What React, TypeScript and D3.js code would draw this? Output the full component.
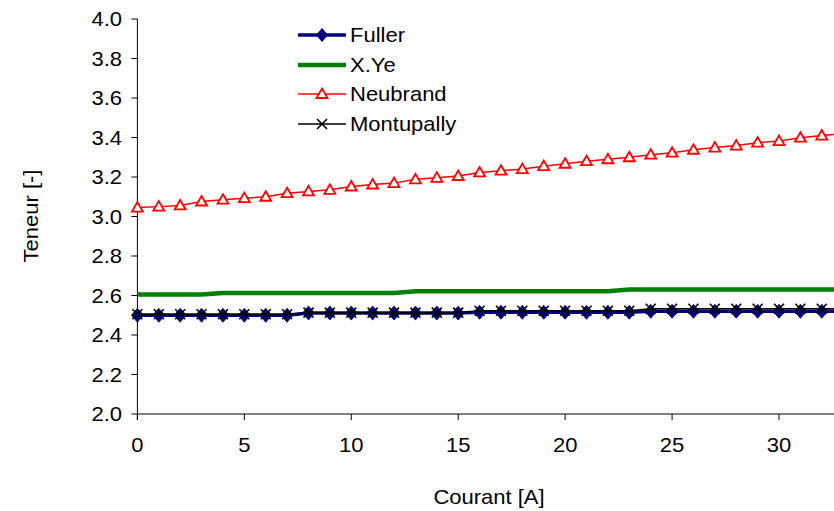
import React from "react";
import * as d3 from "d3";

const currents: number[] = Array.from({ length: 34 }, (_, i) => i);

const fuller: number[] = [
  2.50, 2.50, 2.50, 2.50, 2.50, 2.50, 2.50, 2.50,
  2.511, 2.511, 2.511, 2.511, 2.511, 2.511, 2.511, 2.511,
  2.515, 2.515, 2.515, 2.515, 2.515, 2.515, 2.515, 2.515,
  2.52, 2.52, 2.52, 2.52, 2.52, 2.52, 2.52, 2.52, 2.52, 2.52,
];
const xye: number[] = [
  2.605, 2.605, 2.605, 2.605,
  2.613, 2.613, 2.613, 2.613, 2.613, 2.613, 2.613, 2.613, 2.613,
  2.622, 2.622, 2.622, 2.622, 2.622, 2.622, 2.622, 2.622, 2.622, 2.622,
  2.63, 2.63, 2.63, 2.63, 2.63, 2.63, 2.63, 2.63, 2.63, 2.63, 2.63,
];
const neubrand: number[] = [
  3.045, 3.05, 3.056, 3.076, 3.085, 3.093, 3.10, 3.118, 3.127, 3.135,
  3.152, 3.162, 3.169, 3.188, 3.196, 3.205, 3.223, 3.232, 3.24, 3.255,
  3.267, 3.28, 3.29, 3.30, 3.313, 3.323, 3.338, 3.349, 3.359, 3.374,
  3.382, 3.399, 3.41, 3.418,
];
const montupally: number[] = [
  2.505, 2.505, 2.505, 2.505, 2.505, 2.505, 2.505, 2.505,
  2.513, 2.513, 2.513, 2.513, 2.513, 2.513, 2.513, 2.513,
  2.523, 2.523, 2.523, 2.523, 2.523, 2.523, 2.523, 2.523,
  2.533, 2.533, 2.533, 2.533, 2.533, 2.533, 2.533, 2.533, 2.533, 2.533,
];

const xTicks: number[] = [0, 5, 10, 15, 20, 25, 30];
const yTicks: number[] = [2.0, 2.2, 2.4, 2.6, 2.8, 3.0, 3.2, 3.4, 3.6, 3.8, 4.0];

const W = 834;
const H = 511;
const FONT = "'Liberation Sans', Arial, sans-serif";
const FS = 20;
const SX = 1.1;

function Txt(props: { x: number; y: number; anchor?: string; rotate?: number; children: React.ReactNode }) {
  const { x, y, anchor = "start", rotate = 0, children } = props;
  return (
    <g transform={`translate(${x},${y}) rotate(${rotate}) scale(${SX},1)`}>
      <text x={0} y={0} dy="0.35em" textAnchor={anchor} fontSize={FS} fill="#000">
        {children}
      </text>
    </g>
  );
}

export default function App() {
  const x = d3.scaleLinear().domain([0, 30]).range([137.4, 779]);
  const y = d3.scaleLinear().domain([2, 4]).range([414, 19]);
  const line = (vals: number[]) =>
    d3.line<number>().x((_, i) => x(currents[i])).y((v) => y(v))(vals) || "";

  const diamond = "M0,-7L6,0L0,7L-6,0Z";
  const tri = "M0,-5.5L5.5,4L-5.5,4Z";

  const legend = [
    { name: "Fuller", y: 35 },
    { name: "X.Ye", y: 65 },
    { name: "Neubrand", y: 94 },
    { name: "Montupally", y: 124 },
  ];

  const cross = (
    <>
      <line x1={-5} x2={5} y1={-5} y2={5} />
      <line x1={-5} x2={5} y1={5} y2={-5} />
    </>
  );

  return (
    <svg
      width={W}
      height={H}
      style={{ position: "absolute", left: 0, top: 0, background: "#fff" }}
      fontFamily={FONT}
    >
      <rect width={W} height={H} fill="#fff" />
      {/* axes */}
      <line x1={x(0)} x2={W} y1={y(2)} y2={y(2)} stroke="#000" strokeWidth={1} />
      <line x1={x(0)} x2={x(0)} y1={y(4)} y2={y(2) + 6} stroke="#000" strokeWidth={1} />
      {yTicks.map((t) => (
        <g key={"y" + t}>
          <line x1={x(0) - 6} x2={x(0)} y1={y(t)} y2={y(t)} stroke="#000" />
          <Txt x={122} y={y(t)} anchor="end">{t.toFixed(1)}</Txt>
        </g>
      ))}
      {xTicks.map((t) => (
        <g key={"x" + t}>
          <line x1={x(t)} x2={x(t)} y1={y(2)} y2={y(2) + 6} stroke="#000" />
          <Txt x={x(t)} y={445} anchor="middle">{t}</Txt>
        </g>
      ))}
      <Txt x={31} y={216} anchor="middle" rotate={-90}>Teneur [-]</Txt>
      <Txt x={489} y={497} anchor="middle">Courant [A]</Txt>

      {/* series */}
      <path d={line(fuller)} fill="none" stroke="#000080" strokeWidth={3.5} />
      {fuller.map((v, i) => (
        <path key={"f" + i} d={diamond} transform={`translate(${x(currents[i])},${y(v)})`} fill="#000080" stroke="#000080" strokeWidth={0.8} />
      ))}
      <path d={line(xye)} fill="none" stroke="#008000" strokeWidth={4.5} />
      <path d={line(neubrand)} fill="none" stroke="#ff0000" strokeWidth={1.5} />
      {neubrand.map((v, i) => (
        <path key={"n" + i} d={tri} transform={`translate(${x(currents[i])},${y(v)})`} fill="#fff" stroke="#ff0000" strokeWidth={1.8} />
      ))}
      <path d={line(montupally)} fill="none" stroke="#000" strokeWidth={1.5} />
      {montupally.map((v, i) => (
        <g key={"m" + i} transform={`translate(${x(currents[i])},${y(v)})`} stroke="#000" strokeWidth={1.6}>
          {cross}
        </g>
      ))}

      {/* legend */}
      {legend.map((l, i) => (
        <g key={l.name} transform={`translate(0,${l.y})`}>
          {i === 0 && (
            <>
              <line x1={298} x2={346} stroke="#000080" strokeWidth={3.5} />
              <path d={diamond} transform="translate(322,0)" fill="#000080" />
            </>
          )}
          {i === 1 && <line x1={298} x2={346} stroke="#008000" strokeWidth={4.5} />}
          {i === 2 && (
            <>
              <line x1={298} x2={346} stroke="#ff0000" strokeWidth={1.5} />
              <path d={tri} transform="translate(322,0)" fill="#fff" stroke="#ff0000" strokeWidth={1.8} />
            </>
          )}
          {i === 3 && (
            <>
              <line x1={298} x2={346} stroke="#000" strokeWidth={1.5} />
              <g transform="translate(322,0)" stroke="#000" strokeWidth={1.6}>
                {cross}
              </g>
            </>
          )}
          <Txt x={350} y={0}>{l.name}</Txt>
        </g>
      ))}
    </svg>
  );
}
